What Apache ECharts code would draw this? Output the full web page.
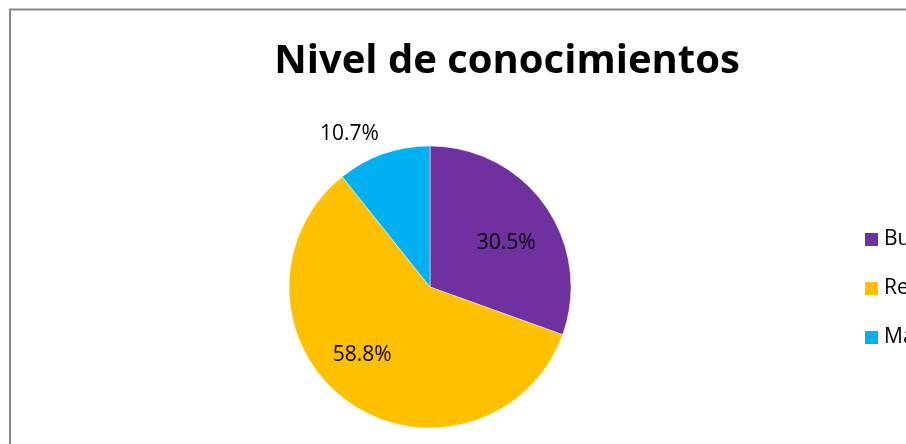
<!DOCTYPE html>
<html>
<head>
<meta charset="utf-8">
<script src="https://cdn.jsdelivr.net/npm/echarts@6/dist/echarts.min.js"></script>
<style>
  html, body { margin: 0; padding: 0; background: #fff; }
  #chart { width: 906px; height: 444px; }
</style>
</head>
<body>
<div id="chart"></div>
<script>
// datos
const categorias = ['Bueno', 'Regular', 'Malo']
const porcentajes = [30.5, 58.8, 10.7]
const colores = ['#7030A0', '#FFC000', '#00B0F0']
const titulo = 'Nivel de conocimientos'

const chart = echarts.init(document.getElementById('chart'), null, { renderer: 'canvas' })

const labelPos = ['inside', 'inside', 'outside']
const labelOffset = [[16, -2], [-25, 8], [3, -12]]

const datos = categorias.map((nombre, i) => ({
  name: nombre,
  value: porcentajes[i],
  itemStyle: { color: colores[i] },
  label: { position: labelPos[i], offset: labelOffset[i] }
}))

const option = {
  animation: false,
  textStyle: { fontFamily: 'Open Sans' },
  graphic: [{
    type: 'rect',
    shape: { x: 10, y: 9.5, width: 1200, height: 1000 },
    style: { fill: 'none', stroke: '#888', lineWidth: 2 },
    silent: true
  }],
  title: {
    text: titulo,
    left: 502,
    top: 37,
    textAlign: 'center',
    textStyle: { fontFamily: 'Open Sans', fontSize: 40, fontWeight: 'bold', color: '#000' }
  },
  legend: {
    orient: 'vertical',
    left: 863,
    top: 229,
    padding: 0,
    itemWidth: 15,
    itemHeight: 15,
    itemGap: 28,
    icon: 'rect',
    data: categorias,
    textStyle: { fontFamily: 'Open Sans', fontSize: 21, lineHeight: 20, color: '#000' }
  },
  series: [{
    type: 'pie',
    center: [430, 287],
    radius: 141,
    startAngle: 90,
    clockwise: true,
    avoidLabelOverlap: false,
    itemStyle: { borderColor: '#fff', borderWidth: 0.5 },
    label: {
      show: true,
      color: '#000',
      fontFamily: 'Open Sans',
      fontSize: 21,
      formatter: p => p.value.toFixed(1) + '%'
    },
    labelLine: { show: false, length: 8, length2: 0 },
    data: datos
  }]
}
chart.setOption(option)
window.addEventListener('resize', () => {
  chart.resize()
})
</script>
</body>
</html>
